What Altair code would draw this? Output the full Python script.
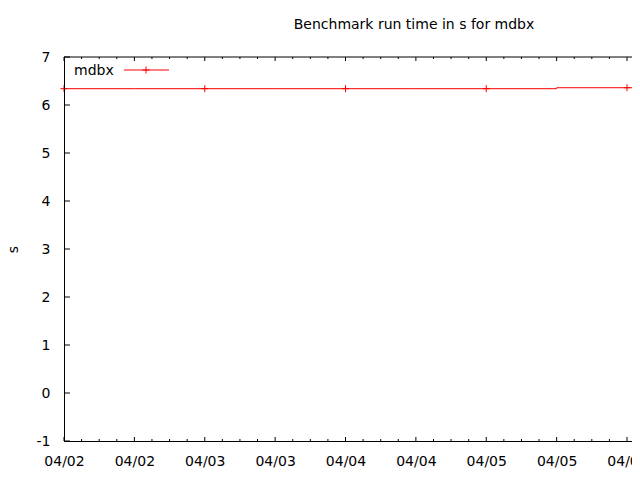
import altair as alt
import pandas as pd

# ---- data ----
run_dates = ["2024-04-02T00:00:00Z", "2024-04-03T00:00:00Z", "2024-04-04T00:00:00Z",
             "2024-04-05T00:00:00Z", "2024-04-06T00:00:00Z"]
run_seconds = [6.34, 6.34, 6.34, 6.34, 6.36]
series_name = "mdbx"
y_tick_values = [-1, 0, 1, 2, 3, 4, 5, 6, 7]
x_start = "2024-04-02T00:00:00Z"
x_end = "2024-04-06T00:51:00Z"
major_step_hours = 12
minor_step_hours = 3

FONT = "DejaVu Sans"
RED = "#ff0000"
W, H = 568, 384

t0 = pd.Timestamp(x_start)
t1 = pd.Timestamp(x_end)
ms = lambda t: int(t.value // 10**6)

major = [t0 + pd.Timedelta(hours=h) for h in range(0, 200, major_step_hours) if t0 + pd.Timedelta(hours=h) <= t1]
minor = [t0 + pd.Timedelta(hours=h) for h in range(0, 200, minor_step_hours)
         if t0 + pd.Timedelta(hours=h) <= t1 and h % major_step_hours != 0]

df = pd.DataFrame({"t": run_dates, "v": run_seconds})
last = pd.DataFrame({"t": [run_dates[-1]],
                     "t2": [(pd.Timestamp(run_dates[-1]) + pd.Timedelta(hours=major_step_hours)).isoformat()],
                     "v": [run_seconds[-1]]})
major_df = pd.DataFrame({"t": [m.isoformat() for m in major]})
minor_df = pd.DataFrame({"t": [m.isoformat() for m in minor]})
ytick_df = pd.DataFrame({"v": y_tick_values})
legend_df = pd.DataFrame({"label": [series_name]})

xscale = alt.Scale(type="utc", domain=[ms(t0), ms(t1)])
yscale = alt.Scale(domain=[-1, 7], nice=False, zero=False)

xaxis = alt.Axis(values=[ms(m) for m in major], labelExpr="utcFormat(datum.value, '%m/%d')",
                 ticks=False, tickSize=0, grid=False, domain=True, domainColor="black",
                 labelFont=FONT, labelFontSize=14, labelColor="black", labelPadding=24,
                 labelBaseline="alphabetic", labelOverlap=False, labelFlush=False, title="", zindex=1)
yaxis = alt.Axis(values=y_tick_values,
                 labelExpr="datum.value < 0 ? '-' + abs(datum.value) : '' + datum.value",
                 ticks=False, tickSize=0, grid=False, domain=True,
                 domainColor="black", labelFont=FONT, labelFontSize=14, labelColor="black",
                 labelPadding=14, title="s", titleFont=FONT, titleFontSize=14,
                 titleFontWeight="normal", titleColor="black", titleX=-51, titleY=H / 2,
                 titleAngle=270, titleAlign="center", titleBaseline="middle", zindex=1)

X = alt.X("t:T", scale=xscale, axis=xaxis)
Y = alt.Y("v:Q", scale=yscale, axis=yaxis)

line = alt.Chart(df).mark_line(interpolate="step", color=RED, strokeWidth=1, clip=True).encode(x=X, y=Y)
pts = alt.Chart(df).mark_point(shape="M-1,0L1,0M0,-1L0,1", size=49, filled=False,
                               stroke=RED, strokeWidth=1, opacity=1).encode(x=X, y=Y)
ext = alt.Chart(last).mark_rule(color=RED, strokeWidth=1, clip=True).encode(
    x=X, x2="t2:T", y=Y)

top_border = alt.Chart(legend_df).mark_rule(color="black", strokeWidth=1).encode(
    x=alt.value(0), x2=alt.value(W), y=alt.value(0))
maj_b = alt.Chart(major_df).mark_rule(color="black", strokeWidth=1).encode(
    x=X, y=alt.value(H), y2=alt.value(H - 4))
maj_t = alt.Chart(major_df).mark_rule(color="black", strokeWidth=1).encode(
    x=X, y=alt.value(0), y2=alt.value(4))
min_b = alt.Chart(minor_df).mark_rule(color="black", strokeWidth=1).encode(
    x=X, y=alt.value(H), y2=alt.value(H - 2))
min_t = alt.Chart(minor_df).mark_rule(color="black", strokeWidth=1).encode(
    x=X, y=alt.value(0), y2=alt.value(2))
yt = alt.Chart(ytick_df).mark_rule(color="black", strokeWidth=1).encode(
    y=Y, x=alt.value(0), x2=alt.value(6))

leg_text = alt.Chart(legend_df).mark_text(align="left", baseline="alphabetic", font=FONT,
                                          fontSize=14, color="black").encode(
    text="label:N", x=alt.value(10), y=alt.value(18))
leg_line = alt.Chart(legend_df).mark_rule(color=RED, strokeWidth=1).encode(
    x=alt.value(60), x2=alt.value(105), y=alt.value(13))
leg_pt = alt.Chart(legend_df).mark_point(shape="M-1,0L1,0M0,-1L0,1", size=49, filled=False,
                                         stroke=RED, strokeWidth=1, opacity=1).encode(
    x=alt.value(82), y=alt.value(13))

chart = alt.layer(line, ext, pts, top_border, maj_b, maj_t, min_b, min_t, yt,
                  leg_text, leg_line, leg_pt).properties(
    width=W, height=H,
    title=alt.TitleParams("Benchmark run time in s for mdbx", font=FONT, fontSize=14,
                          fontWeight="normal", color="black", anchor="middle", frame="group",
                          dx=66, offset=7, baseline="alphabetic"),
    autosize=alt.AutoSizeParams(type="none"),
    padding={"left": 56, "top": 49, "right": 0, "bottom": 31},
    background="white",
).configure_view(stroke=None)

chart.save("out.html", embed_options={"renderer": "svg", "actions": False})
